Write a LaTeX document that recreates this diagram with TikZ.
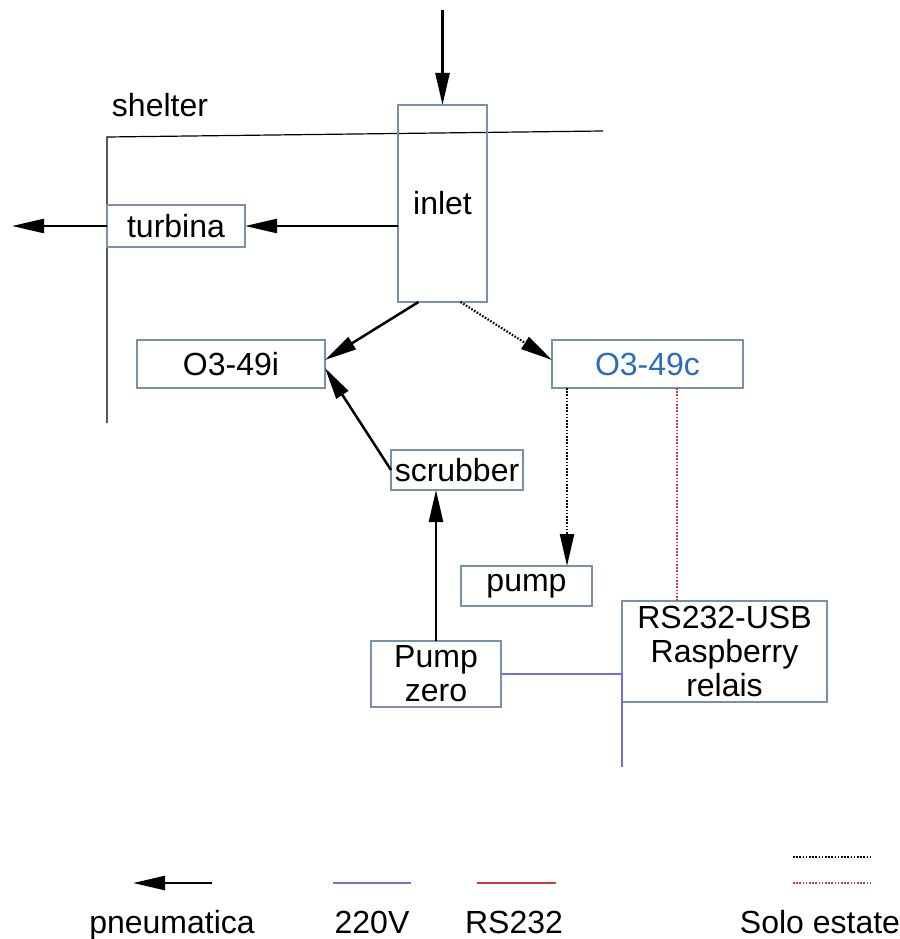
\documentclass[tikz,border=0pt]{standalone}
\usepackage{fontspec}
\setmainfont{Liberation Sans}
\usetikzlibrary{arrows.meta}

\begin{document}
\begin{tikzpicture}[x=1pt,y=-1pt,font=\fontsize{32}{34}\selectfont,
    unit/.style={draw=unitframe,line width=1.1pt,inner sep=0pt,outer sep=0pt,align=center},
    label/.style={anchor=base},
    pneu/.style={line width=2.5pt,-{Triangle[length=32pt,width=14pt]}},
    summer/.style={line width=2.2pt,dash pattern=on 1.6pt off 1.6pt},
    power/.style={draw=mainsblue,line width=2pt},
    serial/.style={draw=serialred,line width=2pt}]
  \definecolor{unitframe}{HTML}{7890AA}
  \definecolor{analyzerblue}{HTML}{2A6EBB}
  \definecolor{mainsblue}{HTML}{7070E0}
  \definecolor{serialred}{HTML}{D03A3A}

  \useasboundingbox (0,0) rectangle (899,939);

  % shelter
  \draw[line width=1.2pt] (603,131) -- (107,137) -- (107,423);
  \node[label] (shelter) at (160,117) {shelter};

  % units
  \node[unit,minimum width=89,minimum height=197] (inlet) at (442.5,203.5) {inlet};
  \node[unit,minimum width=138,minimum height=42] (turbina) at (176,226) {turbina};
  \node[unit,minimum width=188,minimum height=48] (o3i) at (231,364) {O3-49i};
  \node[unit,minimum width=191,minimum height=48,text=analyzerblue] (o3c) at (647.5,364) {O3-49c};
  \node[unit,minimum width=132,minimum height=40] (scrubber) at (457,470) {scrubber};
  \node[unit,minimum width=131,minimum height=40] (pump) at (526.5,586) {pump};
  \node[unit,minimum width=130,minimum height=66] (pumpzero) at (436,674) {Pump\\zero};
  \node[unit,minimum width=205,minimum height=101] (rs) at (724.5,651.5) {RS232-USB\\Raspberry\\relais};

  % pneumatica
  \coordinate (inflow) at (442.5,10);
  \coordinate (exhaust) at (12,226);
  \coordinate (o3cout) at ([xshift=-80.5pt]o3c.south);
  \coordinate (o3cport) at ([xshift=29.5pt]o3c.south);
  \draw[pneu] (inflow) -- (inlet.north);
  \draw[pneu] (inlet.west |- turbina.east) -- (turbina.east);
  \draw[pneu] (turbina.west) -- (exhaust);
  \draw[pneu] ([xshift=-24pt]inlet.south) -- ([yshift=4pt]o3i.east);
  \draw[pneu,summer] ([xshift=18pt]inlet.south) -- ([yshift=4pt]o3c.west);
  \draw[pneu] (scrubber.west) -- ([yshift=-4pt]o3i.east);
  \draw[pneu] (pumpzero.north) -- (pumpzero.north |- scrubber.south);
  \draw[pneu,summer] (o3cout) -- (o3cout |- pump.north);

  % RS232 e 220V
  \draw[serial,summer] (o3cport) -- (o3cport |- rs.north);
  \coordinate (mains) at (622,767);
  \draw[power] (pumpzero.east) -| (mains);

  % legenda
  \coordinate (lgpa) at (212,883);
  \coordinate (lgpb) at (133,883);
  \draw[pneu] (lgpa) -- (lgpb);
  \node[label] (lgp) at (172,933) {pneumatica};
  \coordinate (lgva) at (333,883);
  \coordinate (lgvb) at (411,883);
  \draw[power] (lgva) -- (lgvb);
  \node[label] (lgv) at (372,933) {220V};
  \coordinate (lgra) at (477,883);
  \coordinate (lgrb) at (556,883);
  \draw[serial] (lgra) -- (lgrb);
  \node[label] (lgr) at (514,933) {RS232};
  \coordinate (lgsa) at (793,857);
  \coordinate (lgsb) at (871,857);
  \draw[summer] (lgsa) -- (lgsb);
  \coordinate (lgta) at (793,883);
  \coordinate (lgtb) at (871,883);
  \draw[serial,summer] (lgta) -- (lgtb);
  \node[label] (lgs) at (820,933) {Solo estate};
\end{tikzpicture}
\end{document}
